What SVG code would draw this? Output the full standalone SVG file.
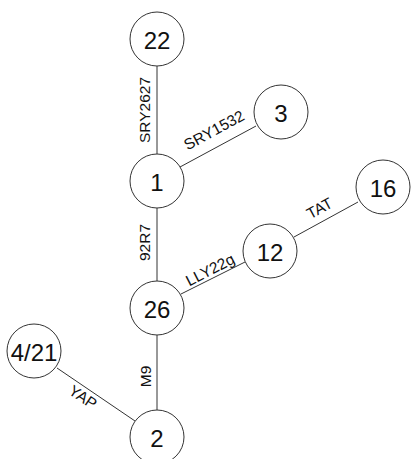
<svg xmlns="http://www.w3.org/2000/svg" width="411" height="459" viewBox="0 0 411 459">
<style>
.n circle{fill:#fff;stroke:#333;stroke-width:1}
.n text{font-family:"Liberation Sans",Arial,sans-serif;font-size:24px;fill:#111;text-anchor:middle;dominant-baseline:central}
.e line{stroke:#333;stroke-width:1}
.l{font-family:"Liberation Sans",Arial,sans-serif;font-size:15.5px;fill:#111;text-anchor:middle}
</style>
<rect width="411" height="459" fill="#fff"/>
<g id="connectors" class="e">
<line x1="157" y1="66" x2="157" y2="154"/>
<line x1="180" y1="167" x2="256" y2="126"/>
<line x1="157" y1="208" x2="157" y2="281"/>
<line x1="181" y1="294" x2="245" y2="262"/>
<line x1="294" y1="237" x2="358" y2="202"/>
<line x1="157" y1="335" x2="157" y2="410"/>
<line x1="57" y1="368" x2="135" y2="421"/>
</g>
<g id="labels">
<text class="l" transform="translate(150.4,110) rotate(-90)">SRY2627</text>
<text class="l" transform="translate(216.6,134.8) rotate(-28.5)">SRY1532</text>
<text class="l" transform="translate(150.4,242.5) rotate(-90)">92R7</text>
<text class="l" transform="translate(212.6,274.5) rotate(-27.3)">LLY22g</text>
<text class="l" transform="translate(322,213) rotate(-28.3)">TAT</text>
<text class="l" transform="translate(150.9,376.5) rotate(-90)">M9</text>
<text class="l" transform="translate(80,401.5) rotate(34)">YAP</text>
</g>
<g id="n22" class="n"><circle cx="157" cy="39" r="27"/><text x="157" y="40">22</text></g>
<g id="n3" class="n"><circle cx="281" cy="112" r="27"/><text x="281" y="113">3</text></g>
<g id="n1" class="n"><circle cx="157" cy="181" r="27"/><text x="157" y="182">1</text></g>
<g id="n12" class="n"><circle cx="270" cy="251" r="27"/><text x="270" y="252">12</text></g>
<g id="n16" class="n"><circle cx="383" cy="187" r="27"/><text x="383" y="188">16</text></g>
<g id="n26" class="n"><circle cx="157" cy="308" r="27"/><text x="157" y="309">26</text></g>
<g id="n421" class="n"><circle cx="34" cy="351" r="27"/><text x="34" y="352">4/21</text></g>
<g id="n2" class="n"><circle cx="157" cy="437" r="27"/><text x="157" y="438">2</text></g>
</svg>
